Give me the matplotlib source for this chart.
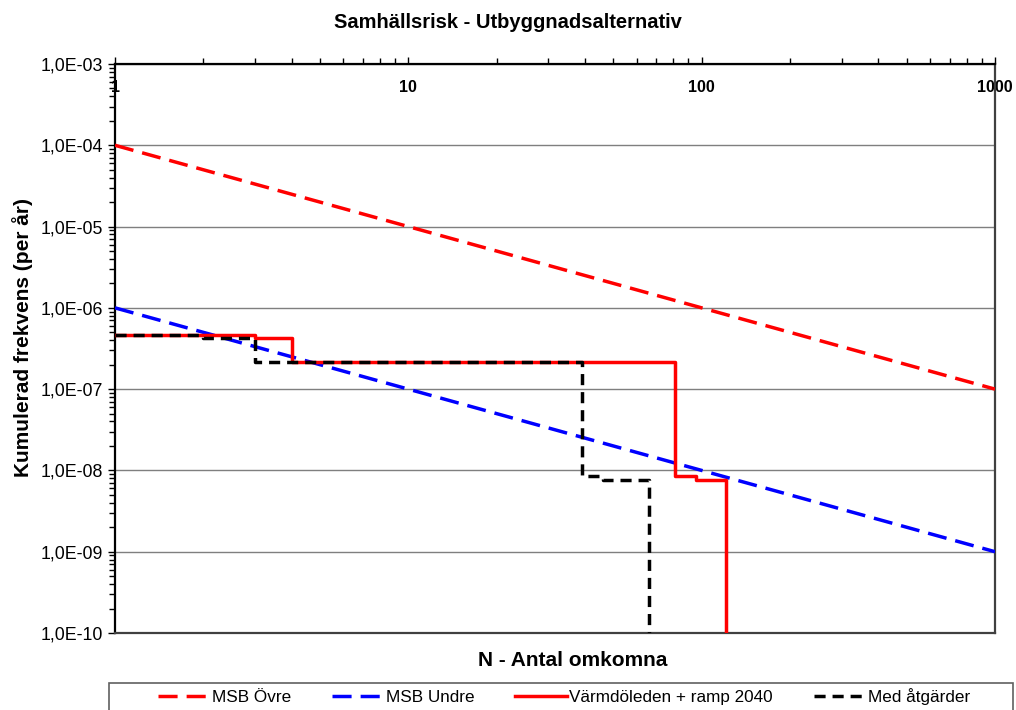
import numpy as np
import matplotlib
matplotlib.use("Agg")
import matplotlib.pyplot as plt
from matplotlib.ticker import FuncFormatter, LogLocator, NullFormatter
from matplotlib.patches import Rectangle

plt.rcParams["font.family"] = ["Liberation Sans", "DejaVu Sans"]

# MSB criteria lines (F-N curves)
n_msb = [1, 1000]
f_msb_ovre = [1e-4, 1e-7]
f_msb_undre = [1e-6, 1e-9]

# Cumulative frequency per scenario, step-post; last value drops out of range
n_varmdo = [1, 3, 4, 81, 95.5, 121]
f_varmdo = [4.7e-7, 4.2e-7, 2.15e-7, 8.6e-9, 7.6e-9, 1e-12]

n_atgard = [1, 2, 3, 39, 46, 66]
f_atgard = [4.7e-7, 4.2e-7, 2.15e-7, 8.6e-9, 7.6e-9, 1e-12]

x_ticks = [1, 10, 100, 1000]

fig = plt.figure(figsize=(10.16, 7.10), dpi=100)
ax = fig.add_axes([115 / 1016, 1 - 633 / 710, 880 / 1016, 569 / 710])

ax.plot(n_msb, f_msb_ovre, color="#ff0000", lw=2.5, dashes=(5.5, 2.6),
        label="MSB Övre", zorder=3)
ax.plot(n_msb, f_msb_undre, color="#0000ff", lw=2.5, dashes=(5.5, 2.6),
        label="MSB Undre", zorder=3)
ax.plot(n_varmdo, f_varmdo, color="#ff0000", lw=2.5, drawstyle="steps-post",
        label="Värmdöleden + ramp 2040", zorder=4)
ax.plot(n_atgard, f_atgard, color="black", lw=2.5, dashes=(3.2, 2.0),
        drawstyle="steps-post", label="Med åtgärder", zorder=5)

ax.set_xscale("log")
ax.set_yscale("log")
ax.set_xlim(1, 1000)
ax.set_ylim(1e-10, 1e-3)

# x axis: ticks on top, labels sitting just inside the plot
ax.xaxis.tick_top()
ax.set_xticks(x_ticks)
ax.set_xticklabels([str(v) for v in x_ticks], fontweight="bold", fontsize=11.5)
ax.xaxis.set_minor_locator(LogLocator(base=10, subs=np.arange(2, 10)))
ax.xaxis.set_minor_formatter(NullFormatter())
ax.tick_params(axis="x", which="major", direction="out", length=5,
               width=1, pad=-27, top=True, bottom=False,
               labeltop=True, labelbottom=False)
ax.tick_params(axis="x", which="minor", direction="out", length=4,
               width=1, top=True, bottom=False)

# y axis: decade labels like 1,0E-05
ax.yaxis.set_major_locator(LogLocator(base=10, numticks=20))
ax.yaxis.set_minor_locator(LogLocator(base=10, subs=np.arange(2, 10),
                                      numticks=20))
ax.yaxis.set_minor_formatter(NullFormatter())
ax.yaxis.set_major_formatter(FuncFormatter(
    lambda v, pos: "1,0E-%02d" % round(-np.log10(v))))
ax.tick_params(axis="y", which="major", direction="out", length=5,
               width=1, labelsize=12.8, pad=4)
ax.tick_params(axis="y", which="minor", direction="out", length=4, width=1)

ax.grid(axis="y", which="major", color="#7f7f7f", lw=1.0)
ax.set_axisbelow(True)

for side in ("left", "top"):
    ax.spines[side].set_color("black")
    ax.spines[side].set_linewidth(1.6)
for side in ("right", "bottom"):
    ax.spines[side].set_color("#404040")
    ax.spines[side].set_linewidth(1.6)

ax.set_ylabel("Kumulerad frekvens (per år)", fontsize=15, fontweight="bold")
ax.yaxis.set_label_coords(-0.093, 0.52)
ax.set_xlabel("N - Antal omkomna", fontsize=15, fontweight="bold")
ax.xaxis.set_label_position("bottom")
ax.xaxis.set_label_coords(0.52, -0.032)

fig.suptitle("Samhällsrisk - Utbyggnadsalternativ", fontsize=14.5,
             fontweight="bold", x=0.5, y=0.982)

# legend box at the bottom, partly cut by the figure edge
fig.patches.append(Rectangle((109 / 1016, -0.02), 904 / 1016,
                             (710 - 683) / 710 + 0.02,
                             transform=fig.transFigure, facecolor="white",
                             edgecolor="#606060", lw=1.2))
fig.legend(loc="center", bbox_to_anchor=(0.555, 1 - 697 / 710), ncol=4,
           frameon=False, fontsize=12.3, handlelength=3.0, handletextpad=0.15,
           columnspacing=2.4, borderaxespad=0)

fig.savefig("out.png", dpi=100)
